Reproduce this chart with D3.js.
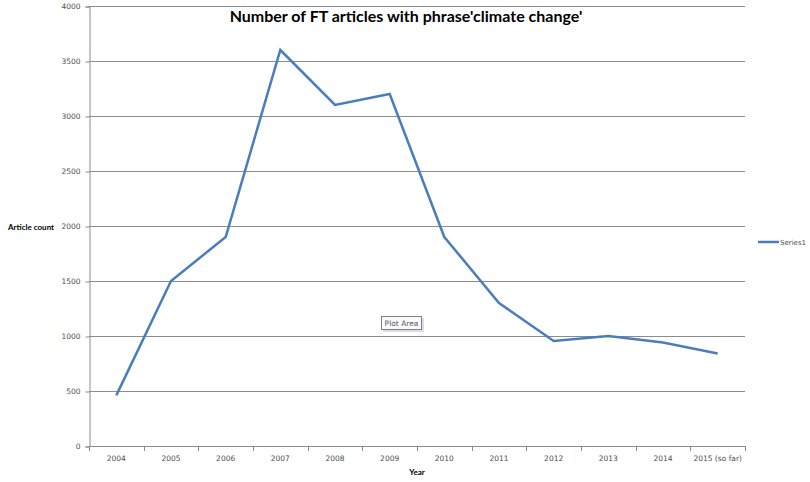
<!DOCTYPE html>
<html>
<head>
<meta charset="utf-8">
<script src="https://cdn.jsdelivr.net/npm/d3@7"></script>
<style>
  body { margin: 0; background: #fff; }
  svg { display: block; }
</style>
</head>
<body>
<div class="svg-container"></div>
<script>
const years = ['2004', '2005', '2006', '2007', '2008', '2009', '2010', '2011', '2012', '2013', '2014', '2015 (so far)'];
const articleCounts = [460, 1500, 1900, 3600, 3100, 3200, 1900, 1300, 955, 1000, 940, 840];
const yTicks = [0, 500, 1000, 1500, 2000, 2500, 3000, 3500, 4000];

const widthSVG = 810;
const heightSVG = 482;
const plot = { left: 89, right: 745, top: 6, bottom: 446 };

const svg = d3.select('.svg-container')
  .append('svg')
  .attr('width', widthSVG)
  .attr('height', heightSVG);

const x = d3.scaleBand()
  .domain(years)
  .range([plot.left, plot.right]);

const y = d3.scaleLinear()
  .domain([0, 4000])
  .range([plot.bottom, plot.top]);

const gridColor = '#8c8c8c';
const labelColor = '#4d4d4d';

// lineas de cuadricula
svg.append('g')
  .selectAll('line')
  .data(yTicks.filter(d => d > 0))
  .enter().append('line')
  .attr('x1', plot.left)
  .attr('x2', plot.right)
  .attr('y1', d => y(d) + 0.5)
  .attr('y2', d => y(d) + 0.5)
  .attr('stroke', gridColor)
  .attr('stroke-width', 1);

// eje Y
const yAxis = svg.append('g')
  .attr('transform', `translate(${plot.left + 0.5},0.5)`)
  .call(d3.axisLeft(y).tickValues(yTicks).tickFormat(d3.format('d')).tickSize(4).tickPadding(5));

// eje X
const xAxis = svg.append('g')
  .attr('transform', `translate(0,${plot.bottom + 0.5})`)
  .call(d3.axisBottom(x).tickSize(0).tickPadding(9));

// marcas del eje X entre categorias
svg.append('g')
  .selectAll('line')
  .data(d3.range(years.length + 1))
  .enter().append('line')
  .attr('x1', i => Math.round(plot.left + i * x.step()) + 0.5)
  .attr('x2', i => Math.round(plot.left + i * x.step()) + 0.5)
  .attr('y1', plot.bottom)
  .attr('y2', plot.bottom + 5)
  .attr('stroke', gridColor);

[yAxis, xAxis].forEach(ax => {
  ax.select('.domain').attr('stroke', gridColor);
  ax.selectAll('.tick line').attr('stroke', gridColor);
  ax.selectAll('.tick text')
    .attr('fill', labelColor)
    .attr('font-family', '"DejaVu Sans", sans-serif')
    .attr('font-size', '7.5px');
});
xAxis.select('.domain').attr('d', `M${plot.left},0H${plot.right}`);

// linea de la serie
const line = d3.line()
  .x((d, i) => x(years[i]) + x.bandwidth() / 2)
  .y(d => y(d));

svg.append('path')
  .datum(articleCounts)
  .attr('d', line)
  .attr('fill', 'none')
  .attr('stroke', '#4a7ebb')
  .attr('stroke-width', 2.5)
  .attr('stroke-linejoin', 'miter');

// titulo
svg.append('text')
  .attr('x', 406)
  .attr('y', 22)
  .attr('text-anchor', 'middle')
  .attr('font-family', 'Lato, "Open Sans", sans-serif')
  .attr('font-weight', 'bold')
  .attr('font-size', '16px')
  .attr('fill', '#000')
  .text("Number of FT articles with phrase'climate change'");

// titulos de ejes
svg.append('text')
  .attr('x', 8)
  .attr('y', 230)
  .attr('font-family', 'Lato, "Open Sans", sans-serif')
  .attr('font-weight', 'bold')
  .attr('font-size', '8px')
  .attr('fill', '#000')
  .text('Article count');

svg.append('text')
  .attr('x', 417)
  .attr('y', 475)
  .attr('text-anchor', 'middle')
  .attr('font-family', 'Lato, "Open Sans", sans-serif')
  .attr('font-weight', 'bold')
  .attr('font-size', '8px')
  .attr('fill', '#000')
  .text('Year');

// leyenda
const legend = svg.append('g').attr('transform', 'translate(758,242)');
legend.append('line')
  .attr('x1', 0)
  .attr('x2', 21)
  .attr('stroke', '#4a7ebb')
  .attr('stroke-width', 2.5);
legend.append('text')
  .attr('x', 22)
  .attr('y', 3)
  .attr('font-family', '"DejaVu Sans", sans-serif')
  .attr('font-size', '7px')
  .attr('fill', labelColor)
  .text('Series1');

// etiqueta flotante "Plot Area"
const tip = svg.append('g').attr('transform', 'translate(381,316)');
tip.append('rect')
  .attr('x', 2)
  .attr('y', 2)
  .attr('width', 41)
  .attr('height', 14)
  .attr('fill', '#c8c8c8')
  .attr('opacity', 0.6);
tip.append('rect')
  .attr('x', 0.5)
  .attr('y', 0.5)
  .attr('width', 40)
  .attr('height', 13)
  .attr('fill', '#fafafa')
  .attr('stroke', '#7f7f8f');
tip.append('text')
  .attr('x', 20.5)
  .attr('y', 10)
  .attr('text-anchor', 'middle')
  .attr('font-family', '"DejaVu Sans", sans-serif')
  .attr('font-size', '7.5px')
  .attr('fill', '#55556a')
  .text('Plot Area');
</script>
</body>
</html>
